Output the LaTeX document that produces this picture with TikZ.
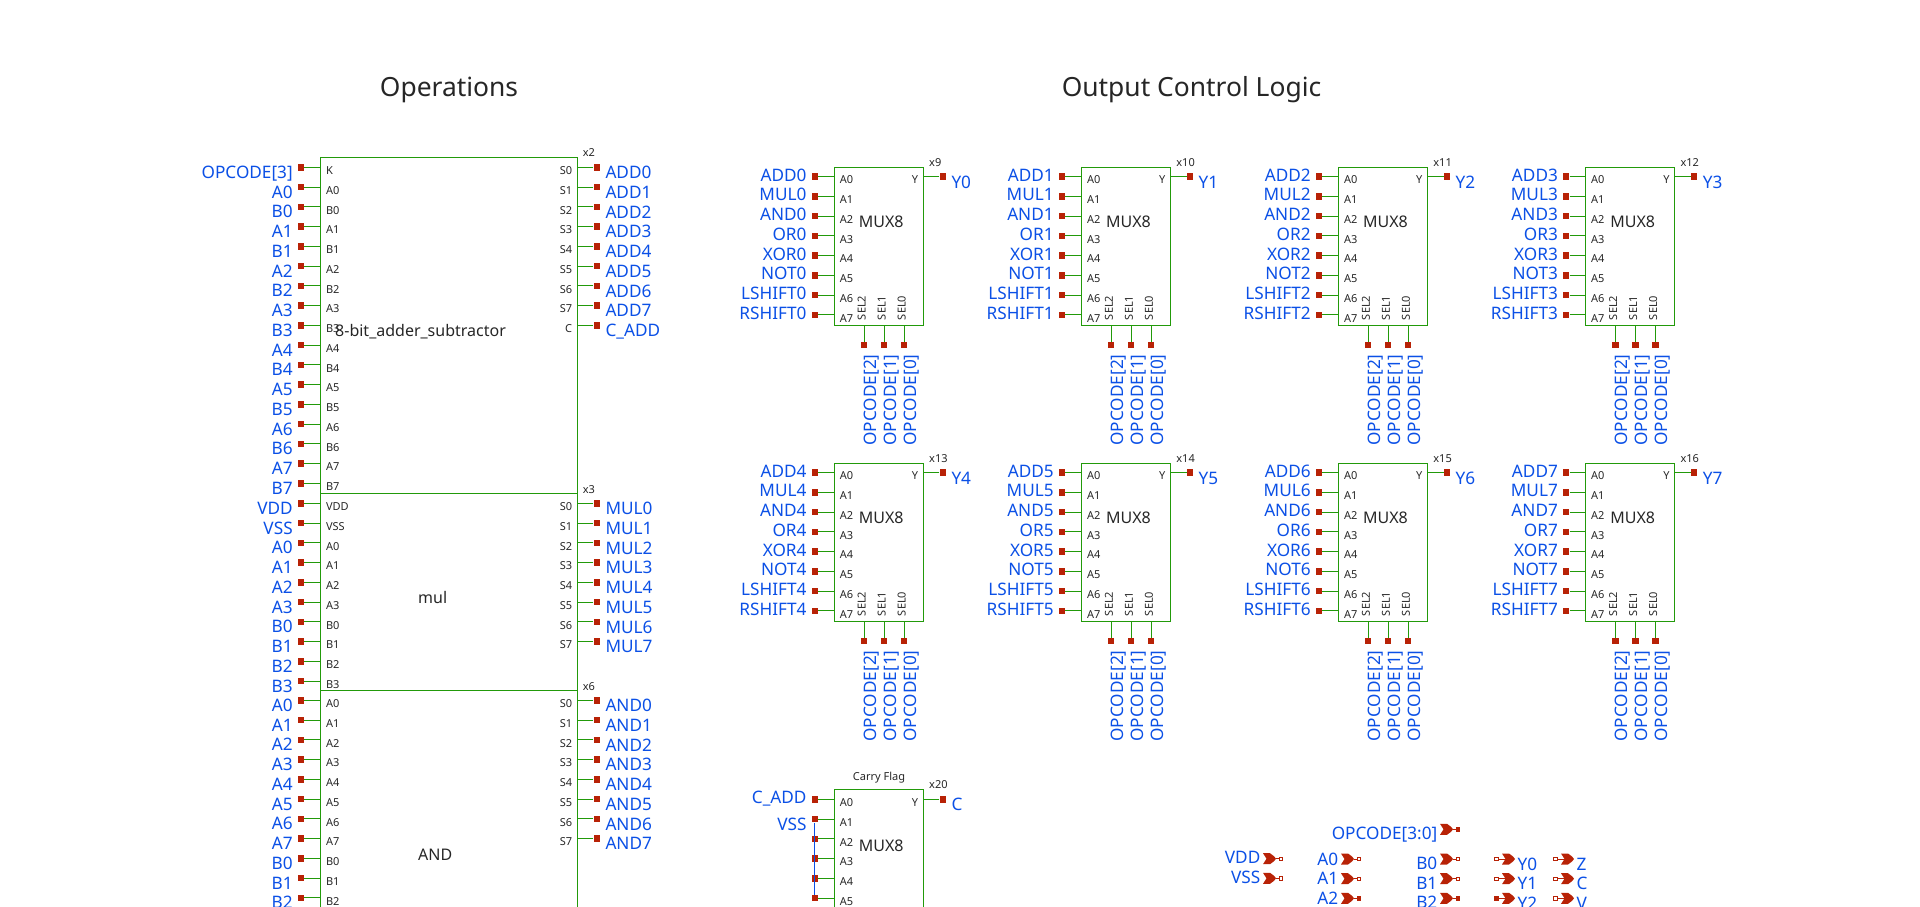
\documentclass[tikz,border=0pt]{standalone}
\usepackage{fontspec}
\setmainfont{Noto Sans}
\definecolor{wiregreen}{HTML}{229A0A}
\definecolor{termred}{HTML}{B82206}
\definecolor{netblue}{HTML}{0B50E6}
\definecolor{inktxt}{HTML}{262626}
\tikzset{
  blk/.style={draw=wiregreen, line width=1pt, inner sep=0pt, outer sep=0pt, anchor=north west},
  wire/.style={draw=wiregreen, line width=1pt},
  termsq/.style={fill=termred, inner sep=0pt, minimum size=6.5pt},
  netlbl/.style={text=netblue, inner sep=0pt, font=\fontsize{17.2}{20}\selectfont},
  pintxt/.style={text=inktxt, inner sep=0pt, font=\fontsize{11}{12}\selectfont},
  blkname/.style={text=inktxt, inner sep=0pt, anchor=base west, font=\fontsize{16}{18}\selectfont},
  titletxt/.style={text=inktxt, inner sep=0pt, anchor=base, font=\fontsize{26.4}{30}\selectfont},
  stubhollow/.style={draw=termred, fill=white, line width=0.9pt, inner sep=0pt, minimum size=3.5pt},
  stubfull/.style={draw=termred, fill=termred, line width=0.9pt, inner sep=0pt, minimum size=3.5pt}
}
\begin{document}
\begin{tikzpicture}[x=1pt, y=-1pt]

\def \pitch {19.75}
% pins on the left: box, box left, first y, label drop, pin/net list
\def \leftpins #1#2#3#4#5{
  \foreach \pinname/\netname [count=\pinidx from 0] in {#5} {
    \node[termsq] (#1-\pinname) at ({#2-19.5},{#3+\pinidx*\pitch}) {};
    \draw[wire] (#1-\pinname) -- (#1-\pinname -| #1.west);
    \node[pintxt, anchor=base west] (#1-\pinname-txt) at ({#2+5.3},{#3+\pinidx*\pitch+7.2}) {\pinname};
    \node[netlbl, anchor=base east] (#1-\pinname-net) at ({#2-27.6},{#3+\pinidx*\pitch+#4}) {\netname};
  }
}
% pins on the right: box, box right, first y, pin/net list
\def \rightpins #1#2#3#4{
  \foreach \pinname/\netname [count=\pinidx from 0] in {#4} {
    \node[termsq] (#1-\pinname) at ({#2+19.5},{#3+\pinidx*\pitch}) {};
    \draw[wire] (#1-\pinname) -- (#1-\pinname -| #1.east);
    \node[pintxt, anchor=base east] (#1-\pinname-txt) at ({#2-5},{#3+\pinidx*\pitch+7.2}) {\pinname};
    \node[netlbl, anchor=base west] (#1-\pinname-net) at ({#2+28},{#3+\pinidx*\pitch+11.3}) {\netname};
  }
}
% one mux: name, left, top, bit, output
\def \muxsel #1#2#3{
  \foreach \selpin/\seloff/\selnet in {SEL2/29.7/{OPCODE[2]},SEL1/49.7/{OPCODE[1]},SEL0/69.7/{OPCODE[0]}} {
    \node[termsq] (#1-\selpin) at ({#2+\seloff},{#3+177.5}) {};
    \draw[wire] (#1-\selpin) -- (#1-\selpin |- #1.south);
    \node[pintxt, rotate=90, anchor=base west] (#1-\selpin-txt) at ({#2+\seloff+1.7},{#3+152.5}) {\selpin};
    \node[netlbl, rotate=90, anchor=base east] (#1-\selpin-net) at ({#2+\seloff+12},{#3+186.5}) {\selnet};
  }
}
\def \muxblk #1#2#3#4#5{
  \node[blk, minimum width=89pt, minimum height=157.6pt] (#1) at (#2,#3) {};
  \node[pintxt, anchor=base west] (#1-ref) at ({#2+94.7},{#3-1}) {#1};
  \node[blkname] (#1-name) at ({#2+24.4},{#3+59.5}) {MUX8};
  \leftpins{#1}{#2}{#3+9}{4.3}{A0/ADD#4,A1/MUL#4,A2/AND#4,A3/OR#4,A4/XOR#4,A5/NOT#4,A6/LSHIFT#4,A7/RSHIFT#4}
  \rightpins{#1}{#2+89}{#3+9}{Y/#5}
  \muxsel{#1}{#2}{#3}
}
% ports: name, tip x, y, text, label drop, end style
\def \flagshape {(-13,-5.5) -- (-6,-5.5) -- (-2,-2.5) -- (0,0) -- (-2,2.5) -- (-6,5.5) -- (-13,5.5) -- (-9.5,0) -- cycle}
\def \inport #1#2#3#4#5#6{
  \coordinate (#1-flag) at (#2,#3);
  \node[#6] (#1) at ({#2+5},{#3}) {};
  \draw[termred, line width=0.9pt] (#1-flag) -- (#1);
  \fill[termred, shift={(#1-flag)}] \flagshape;
  \node[netlbl, anchor=base east] (#1-net) at ({#2-15.5},{#3+#5}) {#4};
}
\def \outport #1#2#3#4#5{
  \coordinate (#1-flag) at ({#2-9},{#3});
  \node[#5] (#1) at ({#2-18.5},{#3}) {};
  \draw[termred, line width=0.9pt] (#1) -- (#1-flag);
  \fill[termred, shift={(#2,#3)}] \flagshape;
  \node[netlbl, anchor=base west] (#1-net) at ({#2+2.5},{#3+11}) {#4};
}

\useasboundingbox (0,0) rectangle (1920,907);
\clip (0,0) rectangle (1920,907);

\node[titletxt] (opstitle) at (449,96) {Operations};
\node[titletxt] (ctltitle) at (1191.5,96) {Output Control Logic};
%
% Operations column
\node[blk, minimum width=256.8pt, minimum height=335.6pt] (x2) at (320.5,157.7) {};
\node[pintxt, anchor=base west] (x2-ref) at (582.7,156.3) {x2};
\node[blkname] (x2-name) at (335,336.5) {8-bit\_adder\_subtractor};
\leftpins{x2}{320.5}{167.3}{11}{K/OPCODE[3],A0/A0,B0/B0,A1/A1,B1/B1,A2/A2,B2/B2,A3/A3,B3/B3,A4/A4,B4/B4,A5/A5,B5/B5,A6/A6,B6/B6,A7/A7,B7/B7}
\rightpins{x2}{577.3}{167.3}{S0/ADD0,S1/ADD1,S2/ADD2,S3/ADD3,S4/ADD4,S5/ADD5,S6/ADD6,S7/ADD7,C/C\_ADD}
%
\node[blk, minimum width=256.8pt, minimum height=197pt] (x3) at (320.5,493.3) {};
\node[pintxt, anchor=base west] (x3-ref) at (582.7,493) {x3};
\node[blkname] (x3-name) at (418,603) {mul};
\leftpins{x3}{320.5}{503.3}{11}{VDD/VDD,VSS/VSS,A0/A0,A1/A1,A2/A2,A3/A3,B0/B0,B1/B1,B2/B2,B3/B3}
\rightpins{x3}{577.3}{503.3}{S0/MUL0,S1/MUL1,S2/MUL2,S3/MUL3,S4/MUL4,S5/MUL5,S6/MUL6,S7/MUL7}
%
\node[blk, minimum width=256.8pt, minimum height=330pt] (x6) at (320.5,690.3) {};
\node[pintxt, anchor=base west] (x6-ref) at (582.7,690) {x6};
\node[blkname] (x6-name) at (418,860) {AND};
\leftpins{x6}{320.5}{700.3}{11}{A0/A0,A1/A1,A2/A2,A3/A3,A4/A4,A5/A5,A6/A6,A7/A7,B0/B0,B1/B1,B2/B2}
\rightpins{x6}{577.3}{700.3}{S0/AND0,S1/AND1,S2/AND2,S3/AND3,S4/AND4,S5/AND5,S6/AND6,S7/AND7}
%
% Output Control Logic
\muxblk{x9}{834.3}{167.7}{0}{Y0}
\muxblk{x10}{1081.5}{167.7}{1}{Y1}
\muxblk{x11}{1338.5}{167.7}{2}{Y2}
\muxblk{x12}{1585.7}{167.7}{3}{Y3}
\muxblk{x13}{834.3}{463.7}{4}{Y4}
\muxblk{x14}{1081.5}{463.7}{5}{Y5}
\muxblk{x15}{1338.5}{463.7}{6}{Y6}
\muxblk{x16}{1585.7}{463.7}{7}{Y7}
%
% Carry Flag
\node[blk, minimum width=89pt, minimum height=157.6pt] (x20) at (834.3,789.5) {};
\node[pintxt, anchor=base west] (x20-ref) at (929,788.5) {x20};
\node[pintxt, anchor=base] (x20-title) at (879,780.5) {Carry Flag};
\node[blkname] (x20-name) at (858.7,851) {MUX8};
\leftpins{x20}{834.3}{799.3}{4.3}{A0/C\_ADD}
\leftpins{x20}{834.3}{819.05}{11}{A1/VSS,A2/{},A3/{},A4/{},A5/{}}
\rightpins{x20}{923.3}{799.3}{Y/C}
\draw[netblue, line width=1.2pt] (x20-A1) -- (x20-A5);
%
% ports
\inport{pvdd}{1276}{858.7}{VDD}{5}{stubhollow}
\inport{pvss}{1276}{878.3}{VSS}{5}{stubhollow}
\inport{pa0}{1354}{859}{A0}{6}{stubhollow}
\inport{pa1}{1354}{878.7}{A1}{6}{stubhollow}
\inport{pa2}{1354}{898.3}{A2}{6}{stubfull}
\inport{pop}{1453}{829.3}{OPCODE[3:0]}{10.5}{stubfull}
\inport{pb0}{1453}{859}{B0}{10.5}{stubhollow}
\inport{pb1}{1453}{878.7}{B1}{10.5}{stubhollow}
\inport{pb2}{1453}{898.3}{B2}{10.5}{stubfull}
\outport{py0}{1515}{859}{Y0}{stubhollow}
\outport{py1}{1515}{878.7}{Y1}{stubhollow}
\outport{py2}{1515}{898.3}{Y2}{stubfull}
\outport{pz}{1574}{859}{Z}{stubhollow}
\outport{pc}{1574}{878.7}{C}{stubhollow}
\outport{pv}{1574}{898.3}{V}{stubhollow}
%
\end{tikzpicture}
\end{document}
